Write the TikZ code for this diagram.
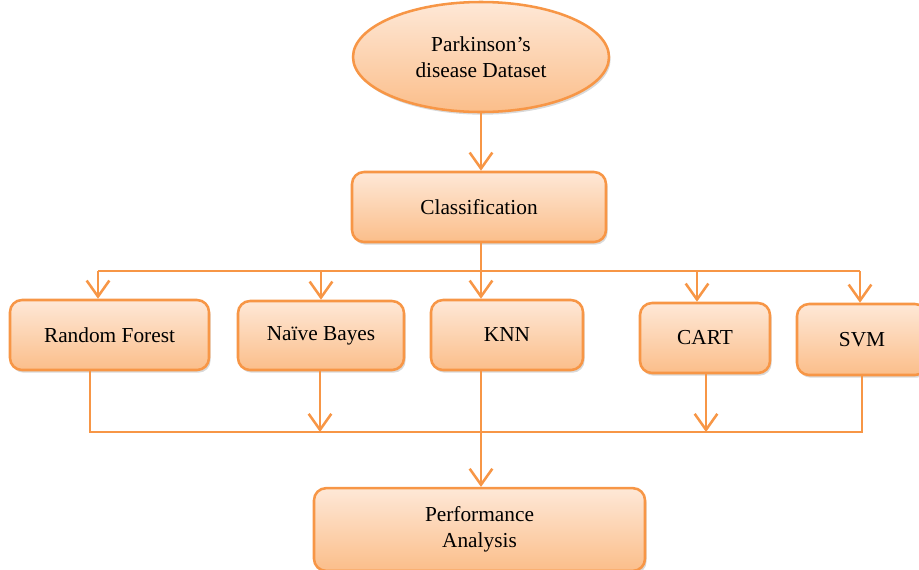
\documentclass[tikz,border=0pt]{standalone}
\usepackage{fontspec}
\setmainfont{Liberation Serif}
\usepackage{tikz,xcolor}
\usetikzlibrary{shapes.geometric,shadows,arrows.meta}

\definecolor{edge}{HTML}{F79646}
\definecolor{topfill}{HTML}{FEE8D7}
\definecolor{botfill}{HTML}{FBBE8A}

\tikzset{
  box/.style={draw=edge,line width=1.9pt,rounded corners=9pt,top color=topfill,bottom color=botfill,
    drop shadow={opacity=0.3,shadow xshift=1.2pt,shadow yshift=-2pt},
    align=center,inner sep=2pt,font=\fontsize{16}{19.5}\selectfont},
  oval/.style={box,ellipse,rounded corners=0pt},
  line/.style={draw=edge,line width=1.9pt},
  arr/.style={line,-{Straight Barb[length=12pt,width=17pt,line width=1.9pt]}}
}

\begin{document}
\begin{tikzpicture}[x=0.75pt,y=-0.75pt]
                \useasboundingbox (0,0) rectangle (919,569);
                \node[oval,minimum width=192pt,minimum height=82.5pt] (data) at (481,57) {Parkinson’s\\disease Dataset};
                \node[box,minimum width=190.5pt,minimum height=52.5pt] (class) at (479,207) {Classification};
                \node[box,minimum width=149.25pt,minimum height=52.5pt] (rf) at (109.5,335) {Random Forest};
                \node[box,minimum width=124.5pt,minimum height=51.75pt] (nb) at (321,335.5) {Naïve Bayes};
                \node[box,minimum width=114pt,minimum height=52.5pt] (knn) at (507,335) {KNN};
                \node[box,minimum width=97.5pt,minimum height=52.5pt] (cart) at (705,338) {CART};
                \node[box,minimum width=97.5pt,minimum height=53.25pt] (svm) at (862,339.5) {SVM};
                \node[box,minimum width=248.25pt,minimum height=62pt] (perf) at (479.5,529.5) {Performance\\Analysis};
                \coordinate (t1) at (98,271);
                \coordinate (t2) at (321,271);
                \coordinate (t3) at (481,271);
                \coordinate (t4) at (697,271);
                \coordinate (t5) at (860,271);
                \coordinate (b1) at (90,432);
                \coordinate (b2) at (320,432);
                \coordinate (b3) at (481,432);
                \coordinate (b4) at (706,432);
                \coordinate (b5) at (862,432);
                \draw[arr] (data.south -| t3) -- (class.north -| t3);
                \draw[line] (class.south -| t3) -- (t3);
                \draw[line] (t1) -- (t5);
                \foreach \t/\n in {t1/rf,t2/nb,t3/knn,t4/cart,t5/svm}
                    \draw[arr] (\t) -- (\t |- \n.north);
                \draw[line] (b1 |- rf.south) -- (b1) -- (b5) -- (b5 |- svm.south);
                \draw[arr] (b2 |- nb.south) -- (b2);
                \draw[arr] (b4 |- cart.south) -- (b4);
                \draw[arr] (b3 |- knn.south) -- (b3 |- perf.north);
\end{tikzpicture}
\end{document}
